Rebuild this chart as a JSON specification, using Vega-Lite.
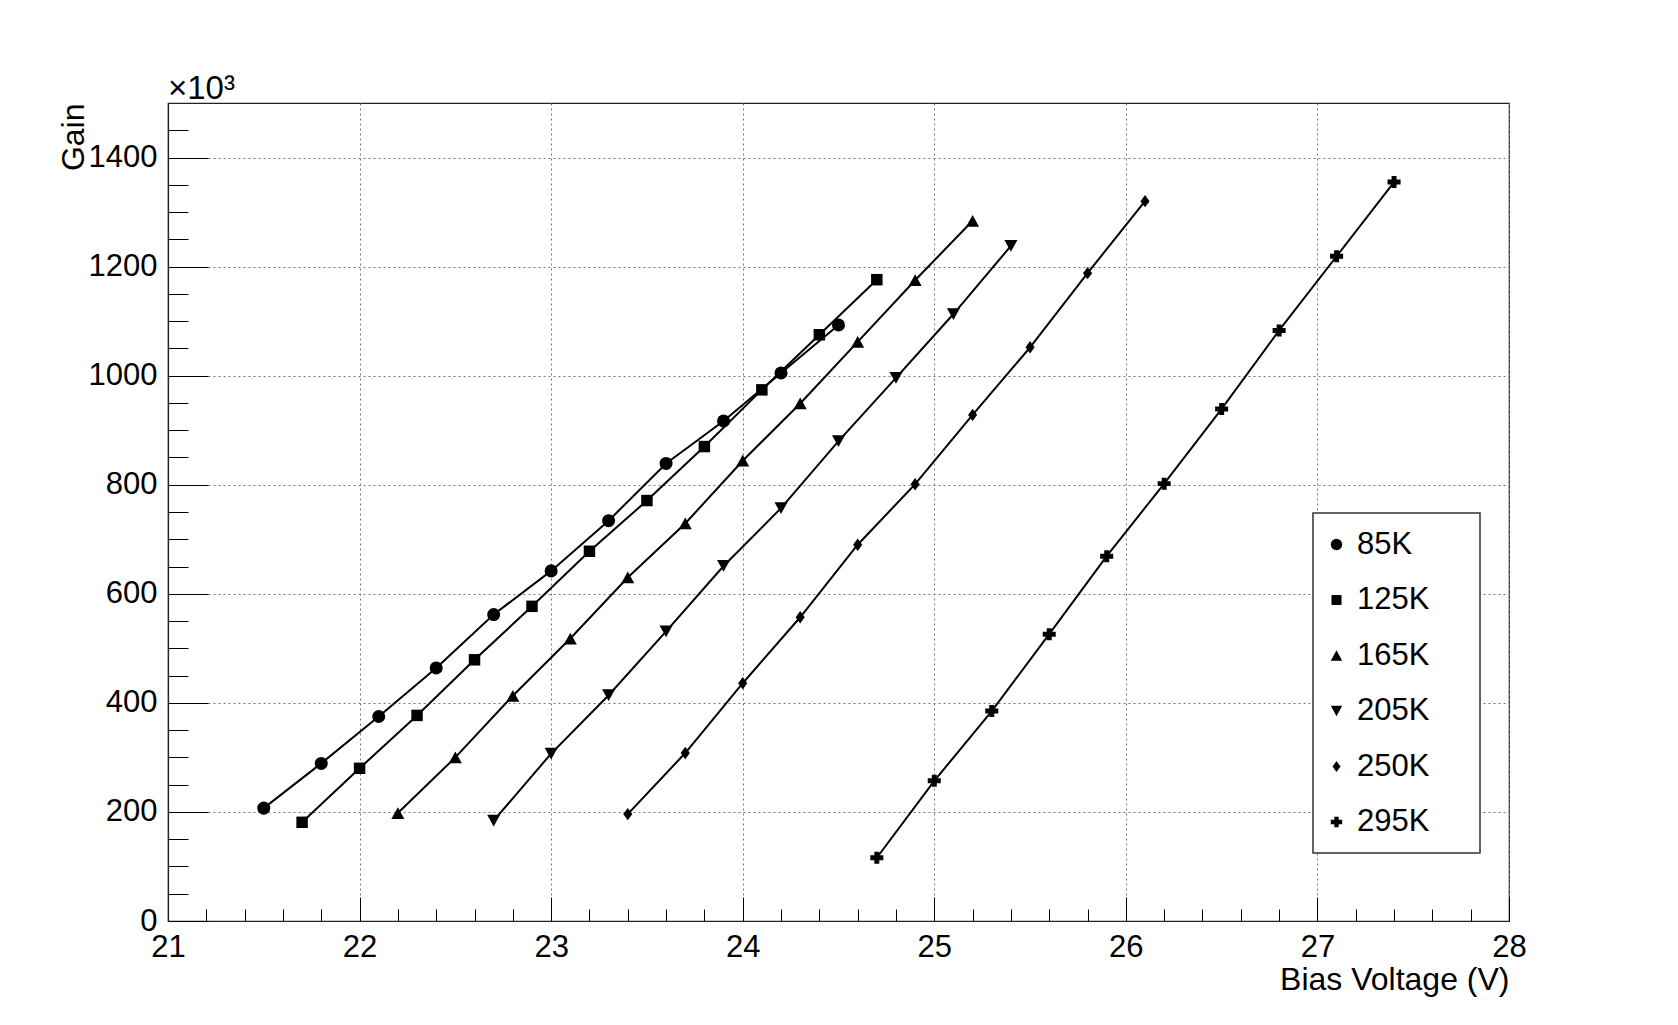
{
  "$schema": "https://vega.github.io/schema/vega-lite/v6.json",
  "width": 1341,
  "height": 818,
  "autosize": "none",
  "padding": {"left": 168, "top": 103, "right": 169, "bottom": 104},
  "background": "white",
  "config": {
    "view": {"stroke": "#222", "strokeWidth": 1.2},
    "font": "Liberation Sans",
    "legend": {"strokeWidth": 1.5}
  },
  "title": {"text": "×10³", "anchor": "start", "frame": "group", "fontSize": 33, "fontWeight": "normal", "font": "Liberation Sans", "color": "black", "offset": 4, "dy": 33, "baseline": "alphabetic"},
  "data": {"values": [
    {"T": "85K", "V": 21.5, "G": 207}, {"T": "85K", "V": 21.8, "G": 289}, {"T": "85K", "V": 22.1, "G": 375}, {"T": "85K", "V": 22.4, "G": 464}, {"T": "85K", "V": 22.7, "G": 562}, {"T": "85K", "V": 23.0, "G": 642}, {"T": "85K", "V": 23.3, "G": 734}, {"T": "85K", "V": 23.6, "G": 839}, {"T": "85K", "V": 23.9, "G": 917}, {"T": "85K", "V": 24.2, "G": 1005}, {"T": "85K", "V": 24.5, "G": 1093},
    {"T": "125K", "V": 21.7, "G": 181}, {"T": "125K", "V": 22.0, "G": 280}, {"T": "125K", "V": 22.3, "G": 377}, {"T": "125K", "V": 22.6, "G": 479}, {"T": "125K", "V": 22.9, "G": 577}, {"T": "125K", "V": 23.2, "G": 678}, {"T": "125K", "V": 23.5, "G": 771}, {"T": "125K", "V": 23.8, "G": 870}, {"T": "125K", "V": 24.1, "G": 974}, {"T": "125K", "V": 24.4, "G": 1075}, {"T": "125K", "V": 24.7, "G": 1176},
    {"T": "165K", "V": 22.2, "G": 198}, {"T": "165K", "V": 22.5, "G": 300}, {"T": "165K", "V": 22.8, "G": 413}, {"T": "165K", "V": 23.1, "G": 518}, {"T": "165K", "V": 23.4, "G": 630}, {"T": "165K", "V": 23.7, "G": 729}, {"T": "165K", "V": 24.0, "G": 844}, {"T": "165K", "V": 24.3, "G": 949}, {"T": "165K", "V": 24.6, "G": 1062}, {"T": "165K", "V": 24.9, "G": 1175}, {"T": "165K", "V": 25.2, "G": 1284},
    {"T": "205K", "V": 22.7, "G": 184}, {"T": "205K", "V": 23.0, "G": 307}, {"T": "205K", "V": 23.3, "G": 414}, {"T": "205K", "V": 23.6, "G": 531}, {"T": "205K", "V": 23.9, "G": 651}, {"T": "205K", "V": 24.2, "G": 757}, {"T": "205K", "V": 24.5, "G": 880}, {"T": "205K", "V": 24.8, "G": 996}, {"T": "205K", "V": 25.1, "G": 1113}, {"T": "205K", "V": 25.4, "G": 1238},
    {"T": "250K", "V": 23.4, "G": 196}, {"T": "250K", "V": 23.7, "G": 308}, {"T": "250K", "V": 24.0, "G": 436}, {"T": "250K", "V": 24.3, "G": 557}, {"T": "250K", "V": 24.6, "G": 690}, {"T": "250K", "V": 24.9, "G": 801}, {"T": "250K", "V": 25.2, "G": 928}, {"T": "250K", "V": 25.5, "G": 1052}, {"T": "250K", "V": 25.8, "G": 1188}, {"T": "250K", "V": 26.1, "G": 1320},
    {"T": "295K", "V": 24.7, "G": 116}, {"T": "295K", "V": 25.0, "G": 257}, {"T": "295K", "V": 25.3, "G": 385}, {"T": "295K", "V": 25.6, "G": 526}, {"T": "295K", "V": 25.9, "G": 669}, {"T": "295K", "V": 26.2, "G": 802}, {"T": "295K", "V": 26.5, "G": 939}, {"T": "295K", "V": 26.8, "G": 1083}, {"T": "295K", "V": 27.1, "G": 1219}, {"T": "295K", "V": 27.4, "G": 1355}
  ]},
  "resolve": {"axis": {"x": "independent", "y": "independent"}},
  "layer": [
    {
      "mark": {"type": "line", "color": "black", "strokeWidth": 2},
      "encoding": {
        "x": {"field": "V", "type": "quantitative", "scale": {"domain": [21, 28], "nice": false, "zero": false},
          "axis": {"orient": "bottom", "values": [21.2,21.4,21.6,21.8,22.2,22.4,22.6,22.8,23.2,23.4,23.6,23.8,24.2,24.4,24.6,24.8,25.2,25.4,25.6,25.8,26.2,26.4,26.6,26.8,27.2,27.4,27.6,27.8],
            "labels": false, "grid": false, "domain": false, "title": null, "tickSize": -12, "tickColor": "black", "tickWidth": 1}},
        "y": {"field": "G", "type": "quantitative", "scale": {"domain": [0, 1500], "nice": false, "zero": true},
          "axis": {"orient": "left", "values": [50,100,150,250,300,350,450,500,550,650,700,750,850,900,950,1050,1100,1150,1250,1300,1350,1450],
            "labels": false, "grid": false, "domain": false, "title": null, "tickSize": -20, "tickColor": "black", "tickWidth": 1}},
        "detail": {"field": "T"}
      }
    },
    {
      "mark": {"type": "point", "filled": true, "color": "black", "size": 170, "opacity": 1},
      "encoding": {
        "x": {"field": "V", "type": "quantitative", "scale": {"domain": [21, 28], "nice": false, "zero": false},
          "axis": {"orient": "bottom", "values": [21,22,23,24,25,26,27,28], "format": "d",
            "title": "Bias Voltage (V)", "titleFontSize": 32, "titleFont": "Liberation Sans", "titleFontWeight": "normal", "titleColor": "black",
            "titleAlign": "right", "titleAnchor": "end", "titleX": 1341, "titleY": 58, "titleBaseline": "middle",
            "labelFontSize": 31, "labelFont": "Liberation Sans", "labelColor": "black", "labelPadding": 35, "labelFlush": false, "labelOverlap": false, "labelBaseline": "top",
            "tickSize": -24, "tickColor": "black", "tickWidth": 1,
            "grid": true, "gridColor": "#777", "gridDash": [2, 3], "gridWidth": 1,
            "domainColor": "#222", "domainWidth": 1.2}},
        "y": {"field": "G", "type": "quantitative", "scale": {"domain": [0, 1500], "nice": false, "zero": true},
          "axis": {"orient": "left", "values": [0,200,400,600,800,1000,1200,1400], "format": "d",
            "title": "Gain", "titleFontSize": 32, "titleFont": "Liberation Sans", "titleFontWeight": "normal", "titleColor": "black",
            "titleAngle": -90, "titleAlign": "right", "titleX": -95, "titleY": 0, "titleBaseline": "middle",
            "labelFontSize": 31, "labelFont": "Liberation Sans", "labelColor": "black", "labelPadding": 51, "labelOverlap": false, "labelFlush": false, "labelBaseline": "middle",
            "tickSize": -40, "tickColor": "black", "tickWidth": 1,
            "grid": true, "gridColor": "#777", "gridDash": [2, 3], "gridWidth": 1,
            "domainColor": "#222", "domainWidth": 1.2}},
        "shape": {"field": "T", "type": "nominal",
          "scale": {"domain": ["85K", "125K", "165K", "205K", "250K", "295K"],
            "range": ["circle", "M-0.88,-0.88H0.88V0.88H-0.88Z", "M0,-0.9L1,0.9L-1,0.9Z", "M0,0.9L1,-0.9L-1,-0.9Z", "M0,-0.95L0.7,0L0,0.95L-0.7,0Z", "M-0.38,-0.92H0.38V-0.38H1V0.38H0.38V0.92H-0.38V0.38H-1V-0.38H-0.38Z"]},
          "legend": {"orient": "none", "legendX": 1145, "legendY": 410, "title": null,
            "strokeColor": "#333", "fillColor": "white", "padding": 16, "rowPadding": 23.5,
            "labelFontSize": 31, "labelFont": "Liberation Sans", "labelColor": "black", "labelOffset": 5, "labelLimit": 400,
            "symbolOffset": -8, "symbolSize": 130, "symbolFillColor": "black", "symbolStrokeColor": "black", "symbolStrokeWidth": 0,
            "labelExpr": "datum.label + '\u00a0\u00a0\u00a0\u00a0\u200b'"}}
      }
    }
  ]
}
